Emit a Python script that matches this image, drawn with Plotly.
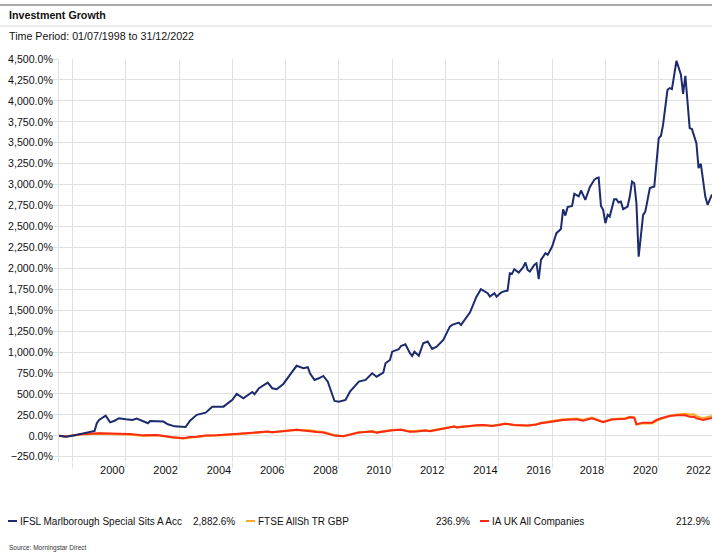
import plotly.graph_objects as go

# ---------------- DATA ----------------
ifsl_dates = ["1998-07","1998-10","1999-01","1999-06","1999-11","1999-12","2000-01","2000-04","2000-06","2000-08",
 "2000-10","2001-01","2001-04","2001-06","2001-08","2001-11","2001-12","2002-06","2002-08","2002-11",
 "2003-04","2003-06","2003-09","2004-01","2004-04","2004-09","2005-01","2005-03","2005-06","2005-10",
 "2005-11","2006-01","2006-05","2006-07","2006-09","2006-12","2007-03","2007-06","2007-09","2007-11",
 "2007-12","2008-02","2008-04","2008-06","2008-08","2008-10","2008-11","2009-01","2009-04","2009-06",
 "2009-10","2010-01","2010-04","2010-06","2010-09","2010-10","2010-12","2011-01","2011-04","2011-05",
 "2011-07","2011-09","2011-10","2011-11","2012-01","2012-03","2012-05","2012-07","2012-09","2012-12",
 "2013-03","2013-04","2013-07","2013-08","2013-10","2013-12","2014-03","2014-05","2014-08","2014-09",
 "2014-11","2014-12","2015-02","2015-03","2015-05","2015-06","2015-07","2015-08","2015-10","2015-12",
 "2016-01","2016-02","2016-03","2016-05","2016-06","2016-07","2016-08","2016-10","2016-11","2017-01",
 "2017-03","2017-05","2017-06","2017-07","2017-08","2017-10","2017-11","2018-01","2018-02","2018-04",
 "2018-06","2018-08","2018-09","2018-10","2018-11","2018-12","2019-01","2019-02","2019-03","2019-05",
 "2019-06","2019-07","2019-08","2019-09","2019-11","2019-12","2020-01","2020-02","2020-03","2020-04",
 "2020-06","2020-07","2020-08","2020-09","2020-11","2021-01","2021-02","2021-03","2021-05","2021-06",
 "2021-07","2021-08","2021-09","2021-11","2021-12","2022-01","2022-03","2022-04","2022-06","2022-07",
 "2022-08","2022-10","2022-11","2023-01"]
ifsl_values = [0,-12,0,30,57,150,190,240,160,180,
 210,197,190,205,180,150,177,170,138,113,
 105,180,250,276,348,348,430,500,448,523,
 496,568,635,568,556,619,727,836,807,819,
 747,667,687,715,647,488,416,408,428,527,
 647,667,747,706,754,866,906,1005,1034,1073,
 1093,986,954,1005,957,1105,1125,1037,1065,1145,
 1304,1324,1352,1324,1404,1471,1662,1751,1703,1662,
 1703,1662,1710,1722,1734,1942,1934,1990,1949,2014,
 2069,1981,1961,2041,2061,1870,2101,2181,2161,2260,
 2420,2470,2705,2630,2731,2746,2890,2860,2929,2818,
 2970,3057,3077,3084,2746,2698,2539,2639,2618,2826,
 2826,2786,2798,2707,2738,2857,3037,3017,2778,2140,
 2639,2678,2818,2958,2977,3555,3583,3714,4132,4153,
 4141,4312,4479,4312,4084,4300,3675,3663,3495,3197,
 3248,2857,2758,2882.6]

bench_dates = ["1998-07","1998-10","1999-01","1999-06","2000-01","2000-04","2000-09","2001-03","2001-09","2001-12",
 "2002-03","2002-07","2002-10","2003-03","2003-06","2003-09","2004-01","2004-06","2005-01","2005-08",
 "2006-01","2006-05","2006-07","2007-01","2007-06","2007-09","2007-12","2008-03","2008-06","2008-09",
 "2008-11","2009-03","2009-06","2009-10","2010-01","2010-04","2010-06","2010-10","2011-01","2011-05",
 "2011-09","2011-12","2012-04","2012-06","2012-10","2013-01","2013-05","2013-06","2013-12","2014-03",
 "2014-06","2014-10","2015-01","2015-04","2015-08","2015-10","2016-02","2016-06","2016-08","2016-12",
 "2017-06","2017-12","2018-03","2018-07","2018-12","2019-04","2019-07","2019-10","2019-12","2020-02",
 "2020-03","2020-06","2020-10","2020-12","2021-02","2021-06","2021-09","2021-12","2022-01","2022-03",
 "2022-05","2022-06","2022-09","2023-01"]
ftse_values = [0,-10,3,18,25,24,25,15,0,8,
 8,-8,-20,-30,-17,-12,0,3,15,28,
 40,48,40,58,70,66,65,52,45,25,
 5,-5,18,42,48,56,42,58,68,75,
 52,58,66,60,76,92,112,104,120,124,
 128,120,130,145,128,124,120,137,155,172,
 195,206,190,218,168,200,207,208,225,215,
 135,150,148,180,200,240,252,262,262,252,
 255,232,210,236.9]
ia_values = [0,-8,5,22,30,28,30,22,5,12,
 10,-5,-18,-30,-15,-10,2,5,18,30,
 42,50,42,60,72,62,58,45,40,20,
 2,-5,15,38,45,52,38,55,65,72,
 48,52,62,55,72,88,110,100,120,125,
 128,118,130,145,130,125,122,135,150,165,
 188,198,180,209,161,195,200,203,221,215,
 137,157,157,189,209,237,245,249,245,228,
 225,209,189,212.9]

series_names = ["IFSL Marlborough Special Sits A Acc", "FTSE AllSh TR GBP", "IA UK All Companies"]
series_colors = ["#1c2b6e", "#f7a72b", "#fb2a12"]
year_labels = [str(y) for y in range(2000, 2023, 2)]
title_text = "Investment Growth"
subtitle_text = "Time Period: 01/07/1998 to 31/12/2022"
source_text = "Source: Morningstar Direct"

# ---------------- LAYOUT HELPERS ----------------
W, H = 712, 552
L, R, T, B = 59, 0, 59, 90
PW, PH = W - L - R, H - T - B
FONT = "Liberation Sans, Arial, Helvetica, sans-serif"
GRID = "#e1e1e1"

def px(x):
    return (x - L) / PW

def py(y):
    return (H - B - y) / PH

fig = go.Figure()
fig.add_trace(go.Scatter(x=[d + "-01" for d in bench_dates], y=ftse_values, mode="lines",
                         line=dict(color=series_colors[1], width=2.2), name=series_names[1]))
fig.add_trace(go.Scatter(x=[d + "-01" for d in bench_dates], y=ia_values, mode="lines",
                         line=dict(color=series_colors[2], width=2), name=series_names[2]))
fig.add_trace(go.Scatter(x=[d + "-01" for d in ifsl_dates], y=ifsl_values, mode="lines",
                         line=dict(color=series_colors[0], width=2), name=series_names[0]))

annotations = [
    dict(text="<b>" + title_text + "</b>", x=px(7), y=py(15), font=dict(size=10.7, color="#111")),
    dict(text=subtitle_text, x=px(7), y=py(36), font=dict(size=10.7, color="#111")),
    dict(text=source_text, x=px(7), y=py(548), font=dict(size=6.5, color="#333")),
]
for a in annotations:
    a.update(xref="paper", yref="paper", xanchor="left", yanchor="middle", showarrow=False)

legend_y = 521
final_vals = [ifsl_values[-1], ftse_values[-1], ia_values[-1]]
leg_line_x = [8, 246, 480]
leg_val_right = [237, 472, 712]
shapes = [
    dict(type="line", xref="paper", yref="paper", x0=px(0), x1=px(W), y0=py(5), y1=py(5),
         line=dict(color="#555", width=1.2)),
    dict(type="line", xref="paper", yref="paper", x0=px(0), x1=px(W), y0=py(26), y1=py(26),
         line=dict(color="#d8d8d8", width=1)),
]
for i in range(3):
    shapes.append(dict(type="line", xref="paper", yref="paper", x0=px(leg_line_x[i]), x1=px(leg_line_x[i] + 9),
                       y0=py(legend_y), y1=py(legend_y), line=dict(color=series_colors[i], width=2)))
    annotations.append(dict(text=series_names[i], x=px(leg_line_x[i] + 10), y=py(legend_y), xref="paper", yref="paper",
                            xanchor="left", yanchor="middle", showarrow=False,
                            font=dict(size=10, color="#111")))
    annotations.append(dict(text=f"{final_vals[i]:,.1f}%", x=px(leg_val_right[i]), y=py(legend_y), xref="paper",
                            yref="paper", xanchor="right", yanchor="middle", showarrow=False,
                            font=dict(size=10, color="#111")))

fig.update_layout(
    width=W, height=H, margin=dict(l=L, r=R, t=T, b=B, pad=0),
    paper_bgcolor="white", plot_bgcolor="white", showlegend=False,
    font=dict(family=FONT, size=11, color="#111"),
    annotations=annotations, shapes=shapes,
    xaxis=dict(type="date", range=["1998-07-01", "2023-01-01"],
               tickmode="array", tickvals=[f"{y}-07-01" for y in year_labels], ticktext=year_labels,
               ticks="", showgrid=False, zeroline=False, showline=False,
               tickfont=dict(size=11, color="#111"),
               minor=dict(tick0="1999-01-01", dtick="M24", showgrid=True, gridcolor=GRID, gridwidth=1,
                          ticks="outside", ticklen=5, tickcolor=GRID)),
    yaxis=dict(range=[-313, 4500], tick0=0, dtick=250, tickformat=",.1f", ticksuffix="%",
               showgrid=True, gridcolor=GRID, gridwidth=1, zeroline=False,
               ticks="outside", ticklen=6, tickcolor=GRID, showline=True, linecolor=GRID,
               ticklabelstandoff=-3,
               tickfont=dict(size=10.6, color="#111")),
)

fig.write_html("out.html", config={"displayModeBar": False},
               post_script="document.body.style.margin='0';document.body.style.padding='0';")
